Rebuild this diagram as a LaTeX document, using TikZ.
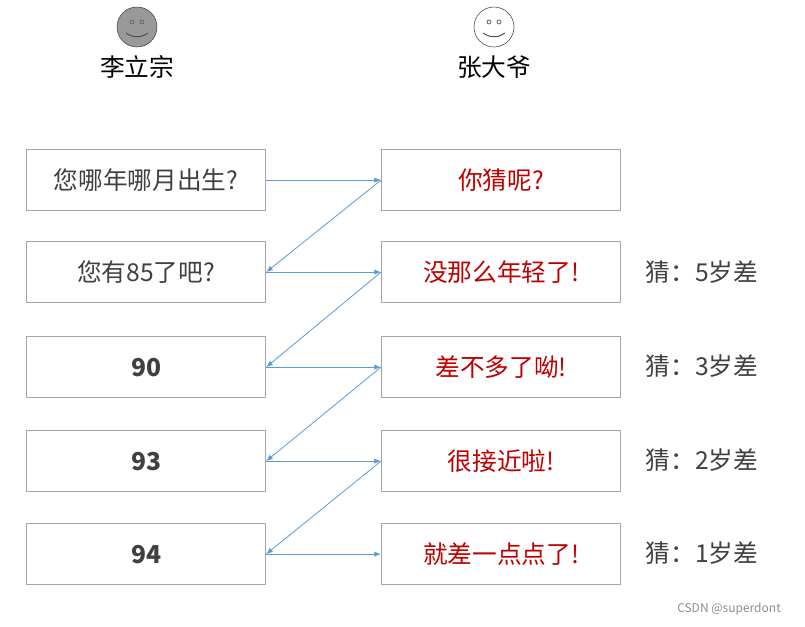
\documentclass[tikz,border=0pt]{standalone}
\usepackage{fontspec}
\setmainfont{Noto Sans CJK SC}
\usetikzlibrary{arrows.meta}
\definecolor{arrowblue}{HTML}{5B9BD5}
\definecolor{darkred}{HTML}{C00000}
\definecolor{textgray}{HTML}{404040}
\tikzset{
  box/.style={draw=black!35,line width=0.9pt,minimum width=179.25pt,minimum height=45.75pt,inner sep=0pt},
  talk/.style={->,>={Latex[length=5pt,width=4pt]},color=arrowblue,line width=0.6pt},
  face/.style={circle,draw=black!75,minimum size=30pt,inner sep=0pt}
}
\begin{document}
\begin{tikzpicture}[x=0.75pt,y=-0.75pt,font=\fontsize{18.5}{22}\selectfont]
\useasboundingbox (0,0) rectangle (805,626);
% faces
\foreach \n/\cx/\col/\who in {li/137/black!40/李立宗,zhang/494/white/张大爷}{
  \node[face,fill=\col] (\n) at (\cx,27) {};
  \draw[black!60,line width=0.6pt] (\cx-5,22) circle (1.5pt) (\cx+5,22) circle (1.5pt);
  \draw[black!70,line width=0.7pt] (\cx-11,33) .. controls (\cx-4,38) and (\cx+4,38) .. (\cx+11,33);
  \node (\n name) at (\cx,67) {\who};
}
% left questions
\node[box,text=textgray,anchor=north west] (l1) at (26,149) {您哪年哪月出生?};
\node[box,text=textgray,anchor=north west] (l2) at (26,241) {您有85了吧?};
\node[box,text=textgray,anchor=north west,font=\fontsize{18.5}{22}\selectfont\bfseries] (l3) at (26,336) {90};
\node[box,text=textgray,anchor=north west,font=\fontsize{18.5}{22}\selectfont\bfseries] (l4) at (26,430) {93};
\node[box,text=textgray,anchor=north west,font=\fontsize{18.5}{22}\selectfont\bfseries] (l5) at (26,523) {94};
% right answers
\node[box,text=darkred,anchor=north west] (r1) at (381,149) {你猜呢?};
\node[box,text=darkred,anchor=north west] (r2) at (381,241) {没那么年轻了!};
\node[box,text=darkred,anchor=north west] (r3) at (381,336) {差不多了呦!};
\node[box,text=darkred,anchor=north west] (r4) at (381,430) {很接近啦!};
\node[box,text=darkred,anchor=north west] (r5) at (381,523) {就差一点点了!};
% guesses
\node[text=textgray] (g2) at (702,272) {猜：5岁差};
\node[text=textgray] (g3) at (702,366) {猜：3岁差};
\node[text=textgray] (g4) at (702,460) {猜：2岁差};
\node[text=textgray] (g5) at (702,553) {猜：1岁差};
% arrows
\foreach \i in {1,...,5}
  \draw[talk] (l\i.east) -- (r\i.west);
\foreach \i/\j in {1/2,2/3,3/4,4/5}
  \draw[talk] (r\i.west) -- (l\j.east);
\node[text=black!45,font=\fontsize{9}{10}\selectfont] (mark) at (729,609) {CSDN @superdont};
\end{tikzpicture}
\end{document}
